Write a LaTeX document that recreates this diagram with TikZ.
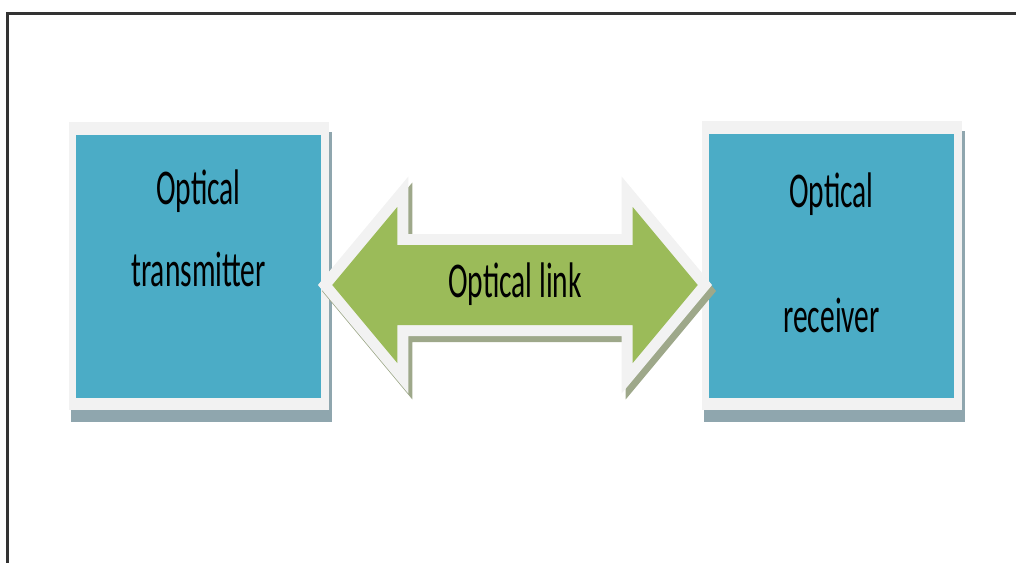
\documentclass[tikz,border=0pt]{standalone}
\usepackage{fontspec}
\usetikzlibrary{calc,backgrounds}
\newfontfamily\labelfont[FakeStretch=0.59]{Carlito}
\definecolor{boxblue}{RGB}{75,172,198}
\definecolor{linkgreen}{RGB}{155,187,89}
\definecolor{rimgray}{RGB}{242,242,242}
\definecolor{boxshadow}{RGB}{143,166,174}
\definecolor{linkshadow}{RGB}{158,168,138}
\tikzset{
	block/.style={fill=boxblue, minimum width=183.75pt, minimum height=197.25pt, inner sep=0pt},
	lbl/.style={font=\labelfont\fontsize{37.5}{40}\selectfont, anchor=base, inner sep=0pt},
	linkshape/.style={insert path={(lt) -- ++(65,-78) -- ++(0,38) -- ($(rt)+(-65,-40)$) -- ++(0,-38) -- (rt) -- ++(-65,78) -- ++(0,-38) -- ($(lt)+(65,40)$) -- ++(0,38) -- cycle}}
}
\begin{document}
\begin{tikzpicture}[x=0.75pt, y=-0.75pt]
			\useasboundingbox (0,0) rectangle (1016,563);
			%%%%% START %%%%%
			
			\draw[line width=2.25pt, color=black!80] (7,563) -- (7,14) -- (1016,14);
			
			\node[block] (tx) at (198.5, 266.5) {};
			\node[block] (rx) at (831.5, 266) {};
			
			\begin{scope}[on background layer]
				\fill[boxshadow] ($(tx.south west)+(-5,12)$) rectangle ($(tx.south east)+(11,24)$);
				\fill[boxshadow] ($(tx.north east)+(8,-3)$) rectangle ($(tx.south east)+(11,24)$);
				\fill[rimgray] ($(tx.north west)+(-7,-13)$) rectangle ($(tx.south east)+(8,12)$);
				
				\fill[boxshadow] ($(rx.south west)+(-5,12)$) rectangle ($(rx.south east)+(11,24)$);
				\fill[boxshadow] ($(rx.north east)+(8,-3)$) rectangle ($(rx.south east)+(11,24)$);
				\fill[rimgray] ($(rx.north west)+(-7,-13)$) rectangle ($(rx.south east)+(8,12)$);
			\end{scope}
			
			\node[lbl] (txa) at ($(tx.north)+(0,70)$) {Optical};
			\node[lbl] (txb) at ($(tx.north)+(0,152)$) {transmitter};
			\node[lbl] (rxa) at ($(rx.north)+(0,73)$) {Optical};
			\node[lbl] (rxb) at ($(rx.north)+(0,198)$) {receiver};
			
			% double arrow between the boxes
			\coordinate (lt) at ($(tx.east)+(11,18.5)$);
			\coordinate (rt) at ($(rx.west)+(-11,19)$);
			\path[transform canvas={shift={(4,6)}}, fill=linkshadow, draw=linkshadow, line width=16.5pt, line join=miter, linkshape];
			\path[fill=linkgreen, preaction={draw=rimgray, line width=16.5pt, line join=miter}, linkshape];
			\node[lbl] (link) at ($(lt)!0.5!(rt)+(0,12)$) {Optical link};
			
			%%%%% END %%%%%
\end{tikzpicture}
\end{document}
